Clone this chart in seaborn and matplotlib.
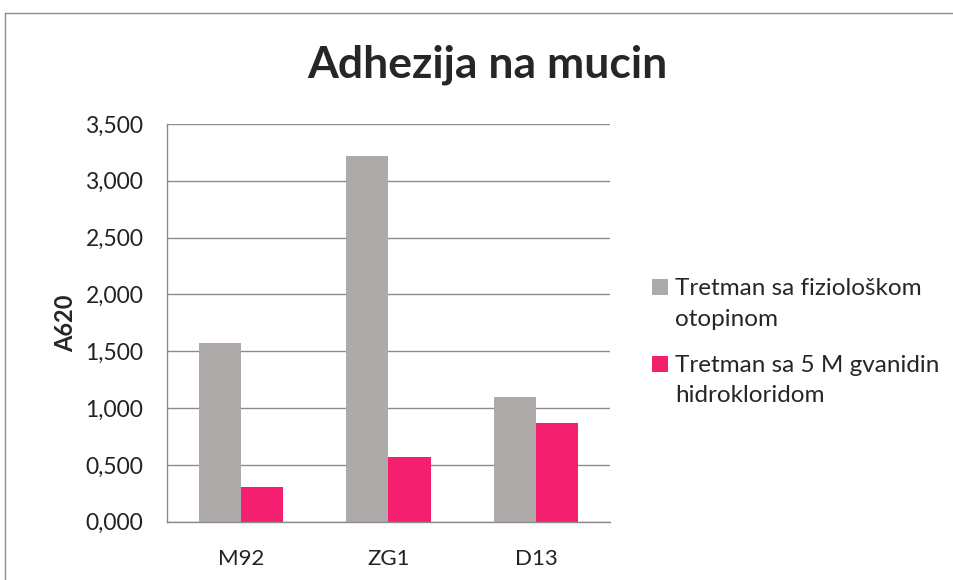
import matplotlib
matplotlib.use('Agg')
import matplotlib.pyplot as plt
import pandas as pd
import seaborn as sns
from matplotlib.lines import Line2D
from matplotlib.patches import Rectangle
from matplotlib.legend_handler import HandlerPatch
from matplotlib.ticker import FuncFormatter

# podaci
sojevi = ['M92', 'ZG1', 'D13']
serije = ['Tretman sa fiziološkom otopinom', 'Tretman sa 5 M gvanidin hidrokloridom']
fizioloska = [1.570, 3.220, 1.100]
gvanidin = [0.308, 0.569, 0.866]
legenda = ['Tretman sa fiziološkom\notopinom', 'Tretman sa 5 M gvanidin\nhidrokloridom']
boje = ['#ADAAA9', '#F41F6E']

df = pd.DataFrame({
    'Soj': sojevi * 2,
    'Tretman': [serije[0]] * 3 + [serije[1]] * 3,
    'A620': fizioloska + gvanidin,
})

sns.set_style('white')
plt.rcParams['font.family'] = ['Lato', 'DejaVu Sans']

fig = plt.figure(figsize=(9.54, 5.8), dpi=100)
ax = fig.add_axes([167 / 954, 1 - 521.7 / 580, (610 - 167) / 954, (521.7 - 124) / 580])

sns.barplot(data=df, x='Soj', y='A620', hue='Tretman', hue_order=serije,
            palette=boje, width=0.57, gap=0, saturation=1, errorbar=None,
            edgecolor='none', ax=ax)

ax.set_ylim(0, 3.5)
ax.set_yticks([0, 0.5, 1, 1.5, 2, 2.5, 3, 3.5])
ax.yaxis.set_major_formatter(FuncFormatter(lambda v, p: f'{v:.3f}'.replace('.', ',')))
ax.yaxis.grid(True, color='#8C8C8C', linewidth=1)
ax.set_axisbelow(True)
for s in ['top', 'right']:
    ax.spines[s].set_visible(False)
for s in ['left', 'bottom']:
    ax.spines[s].set_color('#8C8C8C')
    ax.spines[s].set_linewidth(1)
ax.tick_params(axis='both', length=0, labelsize=16, colors='#222222')
ax.tick_params(axis='y', labelsize=16.5, pad=17)
ax.tick_params(axis='x', pad=20)
ax.set_xlabel('')
ax.set_ylabel('A620', fontsize=17, fontweight='bold', labelpad=6)


# kvadratić legende poravnat s prvim retkom teksta
def kvadrat(legend, orig_handle, xdescent, ydescent, width, height, fontsize):
    return Rectangle((-xdescent, -ydescent + 12), width, height)


handles, _ = ax.get_legend_handles_labels()
leg = ax.legend(handles, legenda, loc='upper left', bbox_to_anchor=(640 / 954, 1 - 266 / 580),
                bbox_transform=fig.transFigure, frameon=False, fontsize=17.5,
                handlelength=0.66, handleheight=0.66, handletextpad=0.3, labelspacing=1.05,
                borderpad=0,
                handler_map={h: HandlerPatch(patch_func=kvadrat) for h in handles})
for t in leg.get_texts():
    t.set_linespacing(1.55)

fig.text(487 / 954, 1 - 65 / 580, 'Adhezija na mucin', ha='center', va='center',
         fontsize=32, fontweight='bold')

# okvir grafikona (gornji i lijevi rub)
y_top = 1 - 13 / 580
x_left = 5 / 954
fig.add_artist(Line2D([x_left, 1], [y_top, y_top], transform=fig.transFigure,
                      color='#8C8C8C', linewidth=1))
fig.add_artist(Line2D([x_left, x_left], [0, y_top], transform=fig.transFigure,
                      color='#8C8C8C', linewidth=1))

plt.savefig('out.png', dpi=100)
plt.close()
